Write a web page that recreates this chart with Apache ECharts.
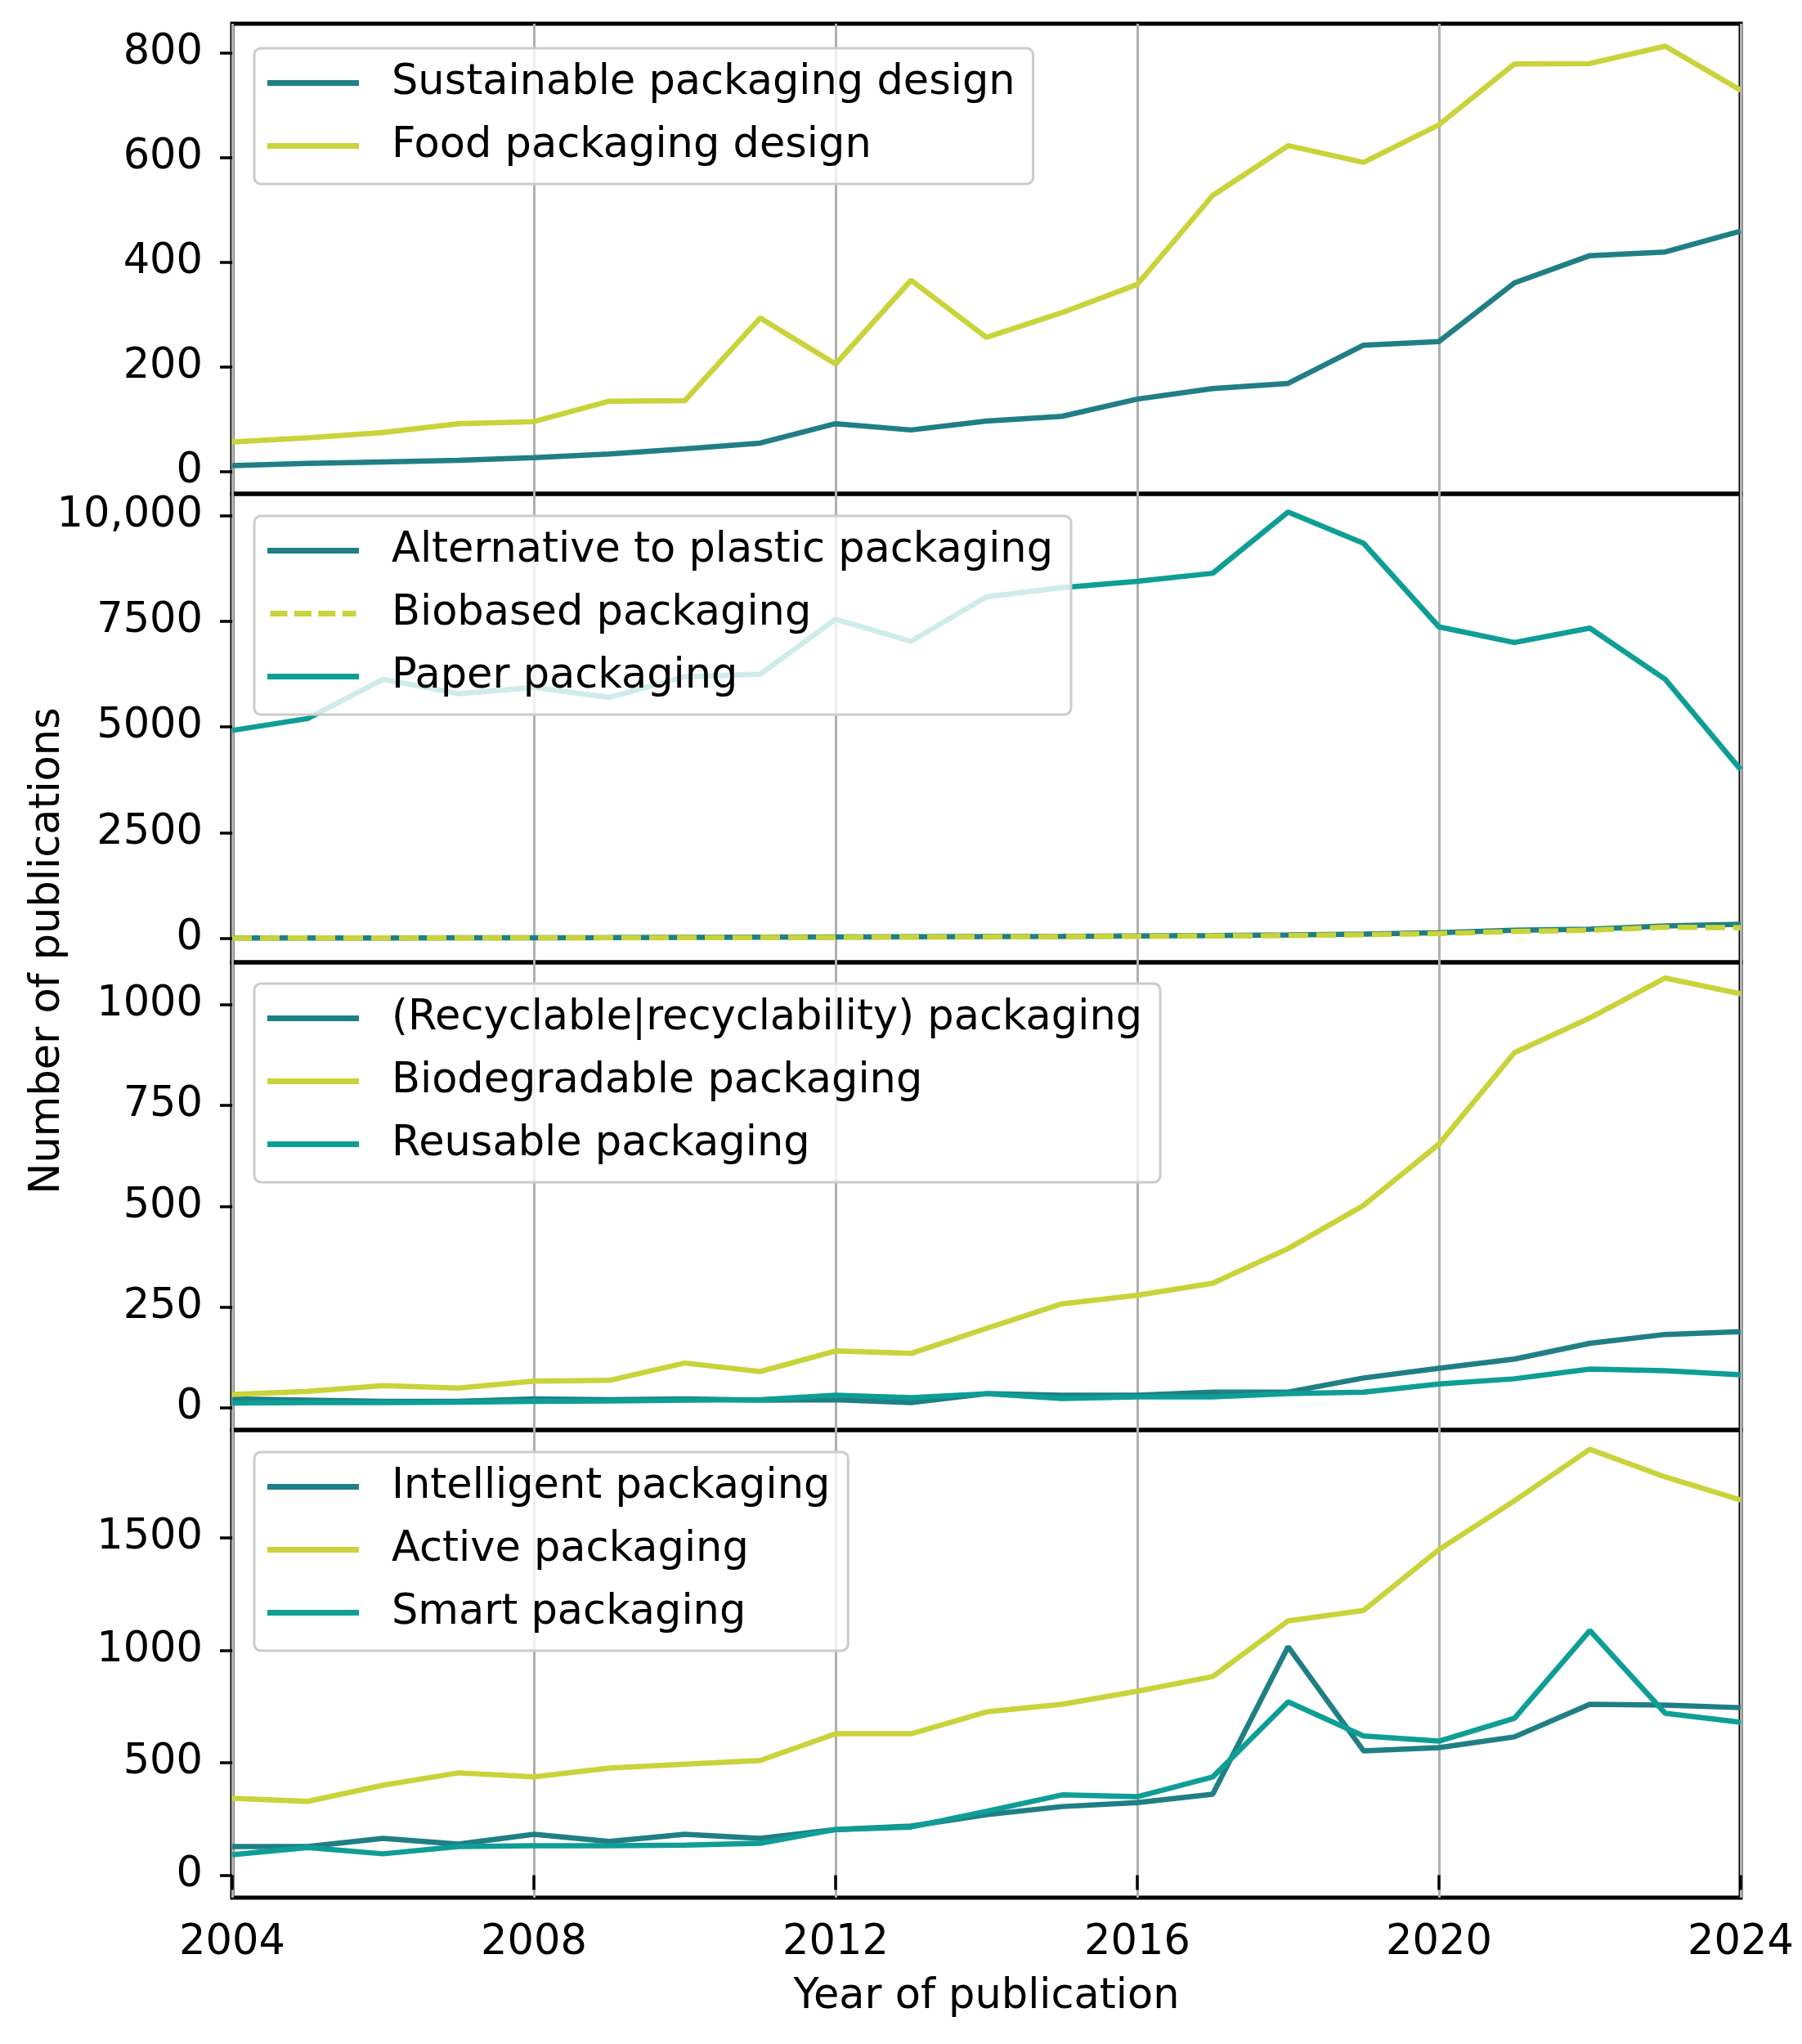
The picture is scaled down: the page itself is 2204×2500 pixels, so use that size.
<!DOCTYPE html>
<html>
<head>
<meta charset="utf-8">
<script src="https://cdn.jsdelivr.net/npm/echarts@6/dist/echarts.min.js"></script>
<style>
  html, body { margin: 0; padding: 0; background: #fff; }
  #main { width: 2204px; height: 2500px; }
</style>
</head>
<body>
<div id="main"></div>
<script>
// years on the shared x axis
var years = [2004, 2005, 2006, 2007, 2008, 2009, 2010, 2011, 2012, 2013, 2014,
             2015, 2016, 2017, 2018, 2019, 2020, 2021, 2022, 2023, 2024];

// panel 1
var sustainableDesign = [12, 16, 19, 22, 27, 34, 44, 55, 92, 80, 97, 106, 139, 159, 169, 242, 249, 361, 413, 420, 460];
var foodDesign = [57, 65, 75, 92, 96, 135, 136, 294, 206, 366, 257, 304, 358, 528, 623, 591, 663, 779, 780, 813, 729];

// panel 2
var altPlastic = [5, 6, 8, 10, 12, 15, 20, 25, 30, 35, 40, 45, 55, 65, 80, 100, 130, 190, 215, 290, 330];
var biobased = [3, 4, 5, 7, 9, 11, 14, 18, 22, 27, 32, 38, 45, 55, 65, 85, 110, 160, 190, 260, 250];
var paper = [4920, 5200, 6130, 5790, 5940, 5700, 6190, 6250, 7550, 7030, 8080, 8300, 8450, 8640, 10090, 9350, 7370, 7000, 7340, 6130, 3990];

// panel 3
var recyclable = [22, 19, 16, 16, 22, 20, 22, 19, 20, 13, 35, 31, 31, 39, 39, 74, 98, 121, 160, 182, 189];
var biodegradable = [33, 41, 55, 49, 66, 68, 111, 90, 141, 135, 197, 258, 279, 309, 395, 502, 654, 881, 967, 1066, 1027];
var reusable = [12, 13, 13, 14, 16, 17, 19, 20, 31, 25, 35, 23, 27, 27, 35, 39, 59, 72, 96, 92, 82];

// panel 4
var intelligent = [127, 127, 164, 138, 182, 150, 182, 164, 203, 218, 269, 305, 323, 360, 1016, 553, 567, 615, 760, 756, 745];
var active = [342, 328, 400, 455, 437, 476, 494, 510, 629, 629, 726, 760, 818, 883, 1131, 1177, 1448, 1665, 1894, 1771, 1669];
var smart = [91, 123, 95, 127, 131, 131, 134, 142, 203, 214, 284, 357, 349, 437, 771, 619, 596, 698, 1088, 720, 680];

// y tick labels per panel
var ticks1 = [0, 200, 400, 600, 800];
var ticks2 = [0, 2500, 5000, 7500, 10000];
var ticks3 = [0, 250, 500, 750, 1000];
var ticks4 = [0, 500, 1000, 1500];

var DARK = '#1f7f84';
var YEL = '#c9d33a';
var TEAL = '#0e9e96';
var FONT = 'DejaVu Sans';
var FS = 51;
var LW = 6.5;

// legend glyphs: a solid bar, and a dashed bar
var SOLID_ICON = 'rect';
var DASH_ICON = 'path://M0,0h30v10h-30z M42,0h30v10h-30z M84,0h30v10h-30z M126,0h24v10h-24z';

function pairs(vals) {
  return years.map(function (y, i) { return [y, vals[i]]; });
}

var tops = [29, 604, 1177, 1749];
var heights = [575, 573, 572, 572];
var yMin = [-42, -570, -55, -100];
var yMax = [856, 10520, 1105, 1980];
var yTicks = [ticks1, ticks2, ticks3, ticks4];

var grids = [], xAxes = [], yAxes = [];
for (var i = 0; i < 4; i++) {
  grids.push({
    left: 284, width: 1845, top: tops[i], height: heights[i],
    show: true, borderColor: '#000', borderWidth: 5, backgroundColor: 'transparent'
  });
  var last = (i === 3);
  xAxes.push({
    type: 'value', gridIndex: i, min: 2004, max: 2024, interval: 4,
    axisLine: { show: false },
    axisTick: { show: last, length: 18, lineStyle: { color: '#000', width: 3.5 } },
    axisLabel: {
      show: last, margin: 30, fontSize: FS, color: '#000', fontFamily: FONT,
      formatter: function (v) { return String(v); }
    },
    splitLine: { show: true, lineStyle: { color: '#b0b0b0', width: 3 } },
    name: last ? 'Year of publication' : '',
    nameLocation: 'middle', nameGap: 96,
    nameTextStyle: { fontSize: FS, color: '#000', fontFamily: FONT }
  });
  yAxes.push({
    type: 'value', gridIndex: i, min: yMin[i], max: yMax[i],
    axisLine: { show: false },
    axisTick: { show: true, length: 15, customValues: yTicks[i], lineStyle: { color: '#000', width: 3.5 } },
    axisLabel: {
      margin: 36, fontSize: FS, color: '#000', fontFamily: FONT,
      customValues: yTicks[i],
      formatter: function (v) { return v >= 10000 ? '10,000' : String(v); }
    },
    splitLine: { show: false }
  });
}

function line(name, vals, color, idx, dashed) {
  return {
    name: name, type: 'line', xAxisIndex: idx, yAxisIndex: idx,
    data: pairs(vals), symbol: 'none', showSymbol: false, smooth: false,
    lineStyle: { color: color, width: LW, type: dashed ? [24, 10] : 'solid' },
    itemStyle: { color: color },
    emphasis: { disabled: true }
  };
}

var series = [
  line('Sustainable packaging design', sustainableDesign, DARK, 0),
  line('Food packaging design', foodDesign, YEL, 0),
  line('Alternative to plastic packaging', altPlastic, DARK, 1),
  line('Biobased packaging', biobased, YEL, 1, true),
  line('Paper packaging', paper, TEAL, 1),
  line('(Recyclable|recyclability) packaging', recyclable, DARK, 2),
  line('Biodegradable packaging', biodegradable, YEL, 2),
  line('Reusable packaging', reusable, TEAL, 2),
  line('Intelligent packaging', intelligent, DARK, 3),
  line('Active packaging', active, YEL, 3),
  line('Smart packaging', smart, TEAL, 3)
];

var legendNames = [
  ['Sustainable packaging design', 'Food packaging design'],
  ['Alternative to plastic packaging', 'Biobased packaging', 'Paper packaging'],
  ['(Recyclable|recyclability) packaging', 'Biodegradable packaging', 'Reusable packaging'],
  ['Intelligent packaging', 'Active packaging', 'Smart packaging']
];
var legendTops = [59, 631, 1203, 1776];

var legends = legendNames.map(function (names, i) {
  return {
    data: names.map(function (n) {
      return { name: n, icon: n === 'Biobased packaging' ? DASH_ICON : SOLID_ICON };
    }),
    orient: 'vertical', left: 311, top: legendTops[i],
    itemWidth: 112, itemHeight: 7, itemGap: 0,
    padding: [4, 22, 8, 16],
    backgroundColor: 'rgba(255,255,255,0.8)',
    borderColor: '#cccccc', borderWidth: 3, borderRadius: 8,
    selectedMode: false,
    textStyle: { fontSize: FS, color: '#000', fontFamily: FONT, lineHeight: 77, padding: [0, 0, 0, 35] }
  };
});

var chart = echarts.init(document.getElementById('main'), null, { renderer: 'canvas' });
chart.setOption({
  backgroundColor: '#fff',
  animation: false,
  textStyle: { fontFamily: FONT },
  grid: grids,
  xAxis: xAxes,
  yAxis: yAxes,
  legend: legends,
  series: series,
  graphic: [{
    type: 'text', x: 59, y: 1163, rotation: Math.PI / 2,
    style: {
      text: 'Number of publications', fontSize: FS, fontFamily: FONT, fill: '#000',
      textAlign: 'center', textVerticalAlign: 'middle'
    }
  }]
});
</script>
</body>
</html>
